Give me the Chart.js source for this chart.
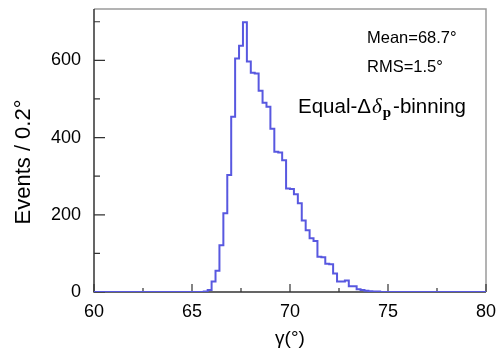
<!DOCTYPE html>
<html>
<head>
<meta charset="utf-8">
<script src="https://cdn.jsdelivr.net/npm/chart.js@4.4.1/dist/chart.umd.min.js"></script>
<style>
html, body { margin: 0; padding: 0; background: #fff; }
#wrap { width: 497px; height: 352px; }
</style>
</head>
<body>
<div id="wrap"><canvas id="histChart" width="497" height="352"></canvas></div>
<script>
// histogram: 100 bins of 0.2 deg from 60 to 80
var xMin = 60, xMax = 80, binWidth = 0.2;
var counts = [
    0, 0, 0, 0, 0, 0, 0, 0, 0, 0,
    0, 0, 0, 0, 0, 0, 0, 0, 0, 0,
    0, 0, 0, 0, 0, 0, 0, 0, 1, 5,
    27, 55, 121, 204, 303, 454, 605, 638, 699, 597,
    568, 566, 521, 490, 480, 423, 363, 361, 341, 268,
    267, 253, 230, 185, 160, 139, 132, 91, 90, 73,
    72, 48, 27, 27, 30, 15, 15, 7, 5, 3,
    2, 1, 1, 0, 0, 0, 0, 0, 0, 0,
    0, 0, 0, 0, 0, 0, 0, 0, 0, 0,
    0, 0, 0, 0, 0, 0, 0, 0, 0, 0
];
var xTicks = [60, 65, 70, 75, 80];
var xMinorTicks = [62.5, 67.5, 72.5, 77.5];
var yMax = 733;
var yTicks = [0, 200, 400, 600];
var yMinorTicks = [100, 300, 500, 700];
var statLines = ["Mean=68.7°", "RMS=1.5°"];
var font = '"Liberation Sans", Arial, Helvetica, sans-serif';

var points = counts.map(function (c, i) {
    return { x: xMin + i * binWidth, y: c };
});
points.push({ x: xMax, y: counts[counts.length - 1] });

// ROOT-like frame with inward ticks
var framePlugin = {
    id: 'frame',
    beforeDatasetsDraw: function (chart) {
        var ctx = chart.ctx, a = chart.chartArea;
        var xs = chart.scales.x, ys = chart.scales.y;
        ctx.save();
        ctx.strokeStyle = '#9a9a9a';
        ctx.lineWidth = 1.5;
        ctx.beginPath();
        ctx.moveTo(a.left, a.top);
        ctx.lineTo(a.right, a.top);
        ctx.lineTo(a.right, a.bottom);
        ctx.stroke();
        ctx.strokeStyle = '#333';
        ctx.beginPath();
        ctx.moveTo(a.left, a.top);
        ctx.lineTo(a.left, a.bottom);
        ctx.lineTo(a.right, a.bottom);
        ctx.stroke();
        ctx.lineWidth = 1.2;
        ctx.beginPath();
        xTicks.forEach(function (v) {
            var px = xs.getPixelForValue(v);
            ctx.moveTo(px, a.bottom);
            ctx.lineTo(px, a.bottom - 8);
        });
        xMinorTicks.forEach(function (v) {
            var px = xs.getPixelForValue(v);
            ctx.moveTo(px, a.bottom);
            ctx.lineTo(px, a.bottom - 4);
        });
        yTicks.forEach(function (v) {
            var py = ys.getPixelForValue(v);
            ctx.moveTo(a.left, py);
            ctx.lineTo(a.left + 11, py);
        });
        yMinorTicks.forEach(function (v) {
            var py = ys.getPixelForValue(v);
            ctx.moveTo(a.left, py);
            ctx.lineTo(a.left + 6, py);
        });
        ctx.stroke();
        ctx.restore();
    },
    afterDraw: function (chart) {
        var ctx = chart.ctx, a = chart.chartArea;
        ctx.save();
        ctx.fillStyle = '#000';

        // axis titles
        ctx.textAlign = 'center';
        ctx.textBaseline = 'middle';
        ctx.font = '19px ' + font;
        ctx.fillText('γ(°)', (a.left + a.right) / 2, 339);
        ctx.translate(24, 162);
        ctx.rotate(-Math.PI / 2);
        ctx.font = '22px ' + font;
        ctx.fillText('Events / 0.2°', 0, 0);
        ctx.setTransform(1, 0, 0, 1, 0, 0);

        // stats box text
        ctx.textAlign = 'left';
        ctx.textBaseline = 'alphabetic';
        ctx.font = '16.5px ' + font;
        ctx.fillText(statLines[0], 367, 43);
        ctx.fillText(statLines[1], 367, 72);

        // Equal-Δδp-binning
        var x = 298, y = 113;
        ctx.font = '20.5px ' + font;
        ctx.fillText('Equal-Δ', x, y);
        x += ctx.measureText('Equal-Δ').width + 1;
        ctx.font = 'italic 21px "Liberation Serif", "DejaVu Serif", serif';
        ctx.fillText('δ', x, y);
        x += ctx.measureText('δ').width + 1;
        ctx.font = 'bold 15px "Liberation Serif", "DejaVu Serif", serif';
        ctx.fillText('p', x, y + 4);
        x += ctx.measureText('p').width + 2;
        ctx.font = '20.5px ' + font;
        ctx.fillText('-binning', x, y);
        ctx.restore();
    }
};

var histChart = new Chart(document.getElementById('histChart'), {
    type: 'line',
    data: {
        datasets: [{
            data: points,
            stepped: true,
            borderColor: '#5858e0',
            borderWidth: 2,
            pointRadius: 0,
            fill: false
        }]
    },
    options: {
        responsive: false,
        animation: false,
        devicePixelRatio: 1,
        layout: { padding: { top: 9, right: 11, left: 0, bottom: 0 } },
        plugins: {
            legend: { display: false },
            tooltip: { enabled: false }
        },
        scales: {
            x: {
                type: 'linear',
                min: xMin,
                max: xMax,
                grid: { display: false },
                border: { display: false },
                afterBuildTicks: function (scale) {
                    scale.ticks = xTicks.map(function (v) { return { value: v }; });
                },
                afterFit: function (scale) {
                    scale.height = 60;
                    scale.paddingLeft = 0;
                    scale.paddingRight = 0;
                },
                ticks: {
                    color: '#000',
                    padding: 1,
                    maxRotation: 0,
                    font: { family: font, size: 18 }
                }
            },
            y: {
                min: 0,
                max: yMax,
                grid: { display: false },
                border: { display: false },
                afterBuildTicks: function (scale) {
                    scale.ticks = yTicks.map(function (v) { return { value: v }; });
                },
                afterFit: function (scale) {
                    scale.width = 94;
                    scale.paddingTop = 0;
                    scale.paddingBottom = 0;
                },
                ticks: {
                    color: '#000',
                    padding: 5,
                    font: { family: font, size: 18 }
                }
            }
        }
    },
    plugins: [framePlugin]
});
</script>
</body>
</html>
